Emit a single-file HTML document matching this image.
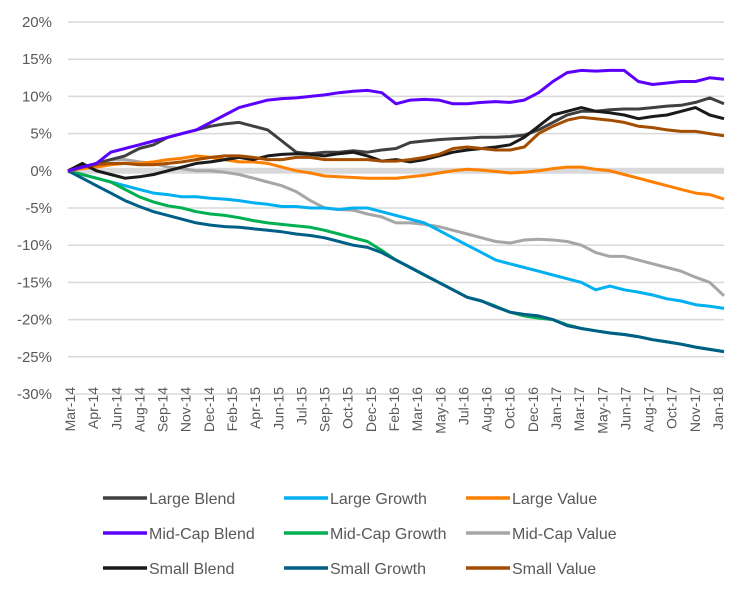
<!DOCTYPE html>
<html><head><meta charset="utf-8"><style>
body{margin:0;background:#fff;}
svg{display:block;font-family:"Liberation Sans",sans-serif;}
</style></head><body>
<svg id="chart" width="745" height="596" viewBox="0 0 745 596" xmlns="http://www.w3.org/2000/svg">
<g id="grid"></g>
<g id="yaxis"></g>
<g id="xaxis"></g>
<g id="series"></g>
<g id="legend"></g>
</svg>
<script>
const yTicks=[20,15,10,5,0,-5,-10,-15,-20,-25,-30];
const xLabels=["Mar-14","Apr-14","Jun-14","Aug-14","Sep-14","Nov-14","Dec-14","Feb-15","Apr-15","Jun-15","Jul-15","Sep-15","Oct-15","Dec-15","Feb-16","Mar-16","May-16","Jul-16","Aug-16","Oct-16","Dec-16","Jan-17","Mar-17","May-17","Jun-17","Aug-17","Oct-17","Nov-17","Jan-18"];
const seriesNames=["Large Blend","Large Growth","Large Value","Mid-Cap Blend","Mid-Cap Growth","Mid-Cap Value","Small Blend","Small Growth","Small Value"];
const largeBlend=[0,0.5,1,1.5,2,3,3.5,4.5,5,5.5,6,6.3,6.5,6,5.5,4,2.5,2.3,2.5,2.5,2.7,2.5,2.8,3,3.8,4,4.2,4.3,4.4,4.5,4.5,4.6,4.8,5.5,6.5,7.5,8,8,8.2,8.3,8.3,8.5,8.7,8.8,9.2,9.8,9];
const largeGrowth=[0,-0.5,-1,-1.5,-2,-2.5,-3,-3.2,-3.5,-3.5,-3.7,-3.8,-4,-4.3,-4.5,-4.8,-4.8,-5,-5,-5.2,-5,-5,-5.5,-6,-6.5,-7,-8,-9,-10,-11,-12,-12.5,-13,-13.5,-14,-14.5,-15,-16,-15.5,-16,-16.3,-16.7,-17.2,-17.5,-18,-18.2,-18.5];
const largeValue=[0,0.3,0.5,0.8,1,1,1.2,1.5,1.7,2,1.8,1.5,1.2,1.2,1,0.5,0,-0.3,-0.7,-0.8,-0.9,-1,-1,-1,-0.8,-0.6,-0.3,0,0.2,0.1,-0.1,-0.3,-0.2,0,0.3,0.5,0.5,0.2,0,-0.5,-1,-1.5,-2,-2.5,-3,-3.2,-3.8];
const midBlend=[0,0.5,1,2.5,3,3.5,4,4.5,5,5.5,6.5,7.5,8.5,9,9.5,9.7,9.8,10,10.2,10.5,10.7,10.8,10.5,9,9.5,9.6,9.5,9,9,9.2,9.3,9.2,9.5,10.5,12,13.2,13.5,13.4,13.5,13.5,12,11.6,11.8,12,12,12.5,12.3];
const midGrowth=[0,-0.5,-1,-1.5,-2.5,-3.5,-4.2,-4.7,-5,-5.5,-5.8,-6,-6.3,-6.7,-7,-7.2,-7.4,-7.6,-8,-8.5,-9,-9.5,-10.7,-12,-13,-14,-15,-16,-17,-17.5,-18.2,-19,-19.5,-19.8,-20,-20.7,-21.2,-21.5,-21.8,-22,-22.3,-22.7,-23,-23.3,-23.7,-24,-24.3];
const midValue=[0,0.5,1,1.5,1.5,1.2,1,0.5,0.3,0,0,-0.2,-0.5,-1,-1.5,-2,-2.8,-4,-5,-5.2,-5.3,-5.8,-6.2,-7,-7,-7.2,-7.5,-8,-8.5,-9,-9.5,-9.7,-9.3,-9.2,-9.3,-9.5,-10,-11,-11.5,-11.5,-12,-12.5,-13,-13.5,-14.3,-15,-16.8];
const smallBlend=[0,1,0,-0.5,-1,-0.8,-0.5,0,0.5,1,1.2,1.5,1.8,1.5,2,2.2,2.3,2.2,2,2.3,2.5,2,1.3,1.5,1.2,1.5,2,2.5,2.8,3,3.2,3.5,4.5,6,7.5,8,8.5,8,7.8,7.5,7,7.3,7.5,8,8.5,7.5,7];
const smallGrowth=[0,-1,-2,-3,-4,-4.8,-5.5,-6,-6.5,-7,-7.3,-7.5,-7.6,-7.8,-8,-8.2,-8.5,-8.7,-9,-9.5,-10,-10.3,-11,-12,-13,-14,-15,-16,-17,-17.5,-18.3,-19,-19.3,-19.5,-20,-20.8,-21.2,-21.5,-21.8,-22,-22.3,-22.7,-23,-23.3,-23.7,-24,-24.3];
const smallValue=[0,0.5,0.8,1,1,0.8,0.8,1,1.2,1.5,1.8,2,2,1.8,1.5,1.5,1.8,1.8,1.5,1.5,1.5,1.5,1.3,1.3,1.5,1.8,2.2,3,3.2,3,2.8,2.8,3.2,5,6,6.8,7.2,7,6.8,6.5,6,5.8,5.5,5.3,5.3,5,4.7];
const seriesData=[largeBlend,largeGrowth,largeValue,midBlend,midGrowth,midValue,smallBlend,smallGrowth,smallValue];
const colors=["#404040","#00b0f0","#ff8000","#5b00ff","#00b050","#a6a6a6","#1a1a1a","#005f86","#a34d00"];
const drawOrder=[5,1,4,7,2,0,6,8,3];
const NS="http://www.w3.org/2000/svg";
const X0=68,X1=724,Y20=22,Ym30=394;
function yScale(v){return Y20+(20-v)*(Ym30-Y20)/50;}
function xScale(i,n){return X0+i*(X1-X0)/(n-1);}
function mk(tag,attrs,parent){const e=document.createElementNS(NS,tag);for(const k in attrs)e.setAttribute(k,attrs[k]);parent.appendChild(e);return e;}
const grid=document.getElementById('grid'),ya=document.getElementById('yaxis'),xa=document.getElementById('xaxis'),sg=document.getElementById('series'),lg=document.getElementById('legend');
yTicks.forEach(t=>{
  const y=yScale(t);
  const l=mk('line',{x1:X0,x2:X1,y1:y,y2:y,stroke:'#d9d9d9','stroke-width':t===0?6:1.5},grid);
  
  
  const tx=mk('text',{x:52,y:y+5,'text-anchor':'end','font-size':15,fill:'#595959'},ya);
  tx.textContent=t+'%';
  
  
});
xLabels.forEach((lab,i)=>{
  const x=70+i*(718-70)/(xLabels.length-1);
  const tx=mk('text',{x:0,y:0,transform:`translate(${x+5},387) rotate(-90)`,'text-anchor':'end','font-size':14,fill:'#595959'},xa);
  tx.textContent=lab;
  
  
});
drawOrder.forEach(s=>{
  const d=seriesData[s];
  const pts=d.map((v,i)=>xScale(i,d.length).toFixed(1)+','+yScale(v).toFixed(1)).join(' ');
  const p=mk('polyline',{points:pts,fill:'none',stroke:colors[s],'stroke-width':3,'stroke-linejoin':'round'},sg);
  
  
});
const colX=[103,284,466],rowY=[498,533,568];
seriesNames.forEach((n,i)=>{
  const cx=colX[i%3],cy=rowY[Math.floor(i/3)];
  const g=mk('g',{},lg);
  
  
  mk('line',{x1:cx,x2:cx+44,y1:cy,y2:cy,stroke:colors[i],'stroke-width':3.5},g);
  const t=mk('text',{x:cx+46,y:cy+6,'font-size':16,fill:'#595959'},g);
  t.textContent=n;
});
</script>
</body></html>
